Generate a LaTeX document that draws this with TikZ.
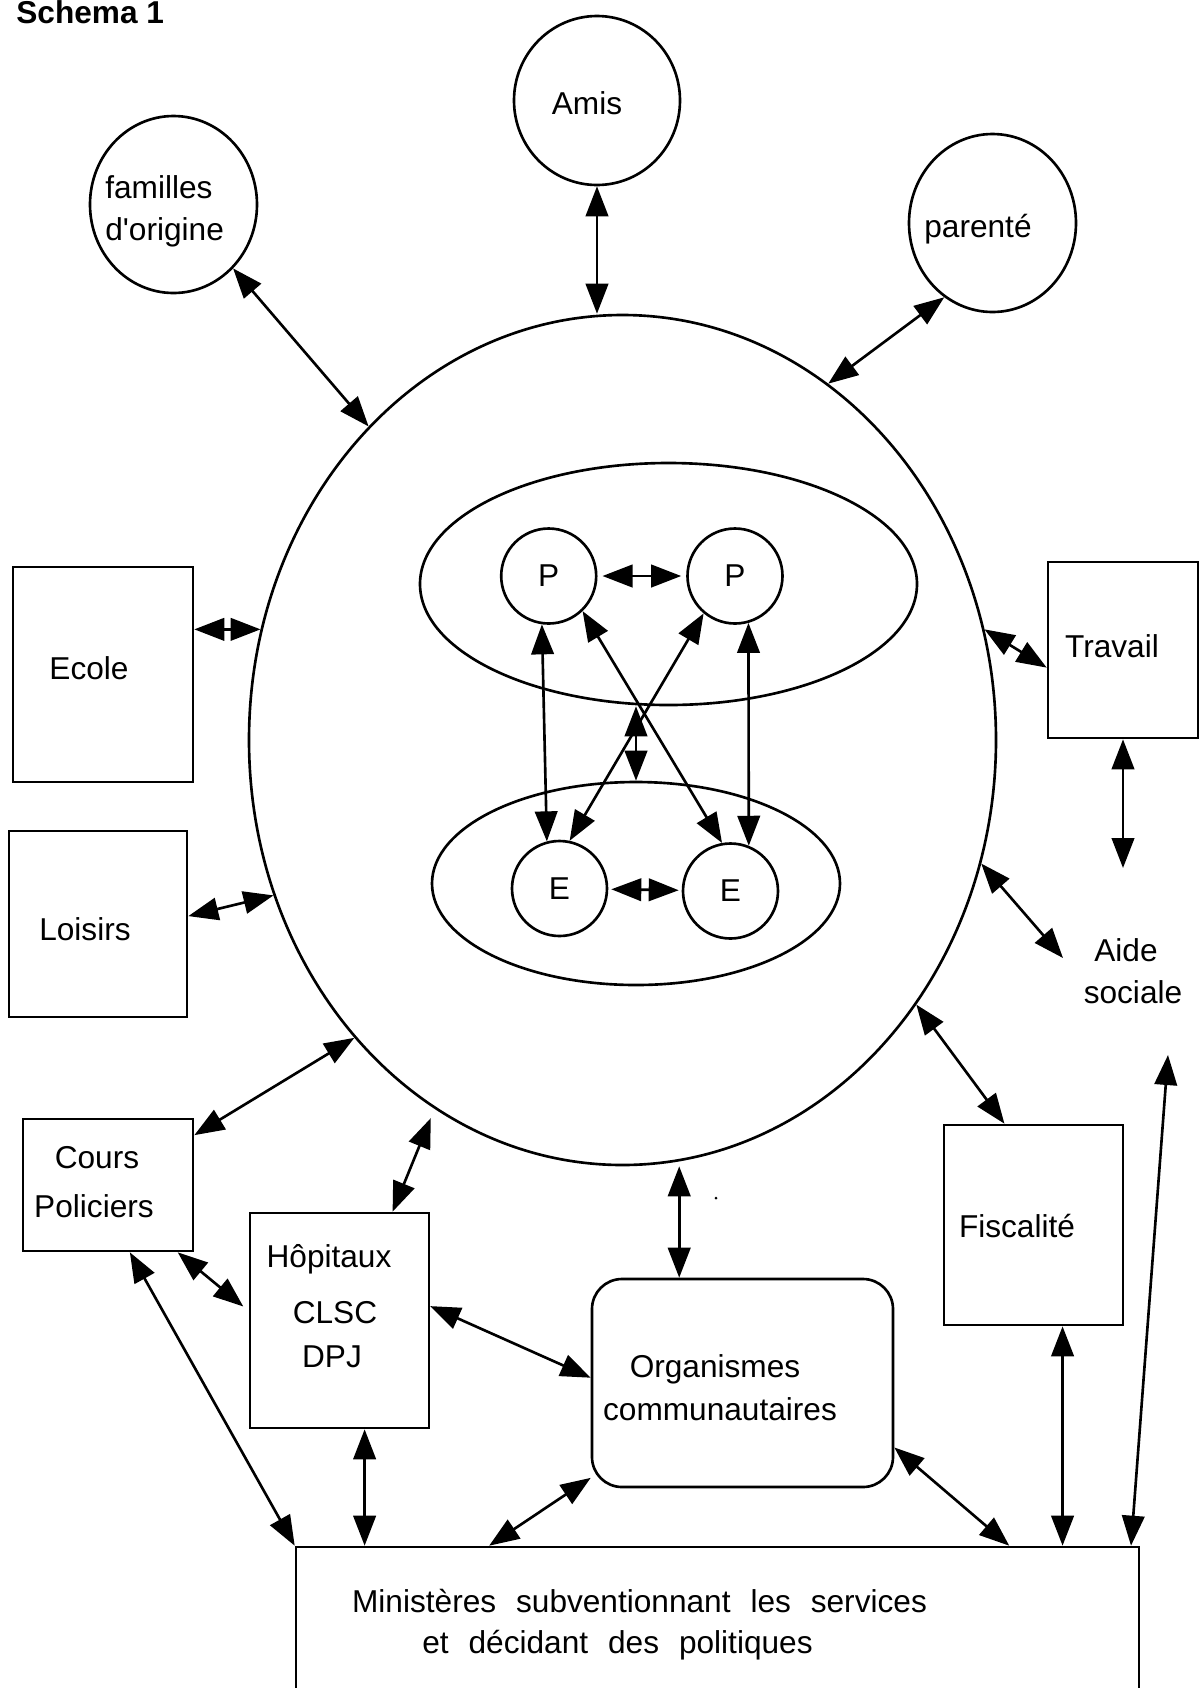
\documentclass[tikz,border=0pt]{standalone}
\usepackage{fontspec}
\setmainfont{Liberation Sans}
\usetikzlibrary{shapes.geometric, arrows.meta, calc}
\newcommand{\pxu}{0.02cm}
\tikzstyle{ring} = [ellipse, draw=black, line width=1.5pt, inner sep=0pt]
\tikzstyle{member} = [circle, draw=black, line width=1.5pt, minimum size=95*\pxu, inner sep=0pt]
\tikzstyle{box} = [rectangle, draw=black, line width=1.5pt, inner sep=0pt]
\tikzstyle{word} = [anchor=base, inner sep=0pt]
\tikzstyle{link} = [line width=1.5pt, <->, >={Triangle[length=0.6cm,width=0.45cm]}]

\begin{document}
\begin{tikzpicture}
				[x=0.02cm, y=-0.02cm, font=\fontsize{18}{22}\selectfont]
				\useasboundingbox (0,0) rectangle (1199,1688);

				\node[word, anchor=base west, font=\fontsize{18}{22}\selectfont\bfseries] (title) at (16,23) {Schema 1};

				% la famille
				\node (big) [ring, minimum width=747*\pxu, minimum height=850*\pxu] at (622.5,740) {};
				\node (famP) [ring, minimum width=497*\pxu, minimum height=242*\pxu] at (668.5,584) {};
				\node (famE) [ring, minimum width=408*\pxu, minimum height=203*\pxu] at (636,883.5) {};
				\node (P1) [member] at (548.7,576) {P};
				\node (P2) [member] at (735,576) {P};
				\node (E1) [member] at (559.5,888.5) {E};
				\node (E2) [member] at (730.5,891) {E};

				% reseau
				\node (amis) [ring, minimum width=166*\pxu, minimum height=169*\pxu] at (597,100.5) {};
				\node (fam) [ring, minimum width=167*\pxu, minimum height=177*\pxu] at (173.5,204.5) {};
				\node (par) [ring, minimum width=167*\pxu, minimum height=178*\pxu] at (992.5,223) {};
				\node (ecole) [box, minimum width=180*\pxu, minimum height=215*\pxu] at (103,674.5) {};
				\node (loisirs) [box, minimum width=178*\pxu, minimum height=186*\pxu] at (98,924) {};
				\node (travail) [box, minimum width=150*\pxu, minimum height=176*\pxu] at (1123,650) {};
				\node (cours) [box, minimum width=170*\pxu, minimum height=132*\pxu] at (108,1185) {};
				\node (hop) [box, minimum width=179*\pxu, minimum height=215*\pxu] at (339.5,1320.5) {};
				\node (org) [box, rounded corners=0.6cm, minimum width=301*\pxu, minimum height=208*\pxu] at (742.5,1383) {};
				\node (fisc) [box, minimum width=179*\pxu, minimum height=200*\pxu] at (1033.5,1225) {};
				\node (min) [box, minimum width=843*\pxu, minimum height=200*\pxu] at (717.5,1647) {};
				\node (dot) [circle, fill=black, inner sep=0pt, minimum size=3*\pxu] at (716,1198) {};

				% textes
				\node (amistxt) [word] at (587,114) {Amis};
				\node (famtxt1) [word, anchor=base west] at (105,198) {familles};
				\node (famtxt2) [word, anchor=base west] at (105,240) {d\textquotesingle origine};
				\node (partxt) [word, anchor=base west] at (924,237) {parenté};
				\node (ecoletxt) [word] at (89,679) {Ecole};
				\node (loisirstxt) [word] at (85,940) {Loisirs};
				\node (travailtxt) [word] at (1112,657) {Travail};
				\node (aidetxt1) [word] at (1126,961) {Aide};
				\node (aidetxt2) [word] at (1133,1003) {sociale};
				\node (courstxt1) [word] at (97,1168) {Cours};
				\node (courstxt2) [word] at (94,1217) {Policiers};
				\node (hoptxt1) [word] at (329,1267) {Hôpitaux};
				\node (hoptxt2) [word] at (335,1323) {CLSC};
				\node (hoptxt3) [word] at (332,1367) {DPJ};
				\node (orgtxt1) [word] at (715,1377) {Organismes};
				\node (orgtxt2) [word] at (720,1420) {communautaires};
				\node (fisctxt) [word] at (1017,1237) {Fiscalité};
				\node (mintxt1) [word] at (639.5,1612) {\spaceskip=0.63em Ministères subventionnant les services};
				\node (mintxt2) [word] at (617.5,1653) {\spaceskip=0.63em et décidant des politiques};

				\coordinate (aideUp) at (1123,868);
				\coordinate (aideLeft) at (1063,958);
				\coordinate (aideDown) at (1168,1055);

				% liens dans la famille
				\draw [link, shorten <=0.1cm, shorten >=0.1cm] (P1) -- (P2);
				\draw [link] (P1.262) -- (E1.105);
				\draw [link] (P2.286) -- (E2.68);
				\draw [link] (P1.-46) -- (E2.100);
				\draw [link] (P2.230) -- (E1.78);
				\draw [link] (famP.south -| famE.north) -- (famE.north);
				\draw [link, shorten <=0.06cm, shorten >=0.06cm] (E1) -- (E2);

				% liens avec le reseau
				\draw [link] (amis.south) -- (amis.south |- big.north);
				\draw [link] (fam.-47) -- (big.129);
				\draw [link] (par.237) -- (big.60);
				\draw [link] (big.163 -| ecole.east) -- (big.163);
				\draw [link] (loisirs.5) -- (big.204);
				\draw [link] (big.17) -- (travail.193);
				\draw [link] (travail.south) -- (aideUp);
				\draw [link] (big.-19) -- (aideLeft);
				\draw [link] (cours.30) -- (big.228);
				\draw [link, shorten >=0.2cm] (hop.64) -- (big.243);
				\draw [link, shorten >=0.14cm] (cours.-44) -- (hop.174);
				\draw [link] (cours.-72) -- (min.north west);
				\draw [link] (hop.-77) -- (hop.-77 |- min.north);
				\draw [link] (hop.9) -- (org.178);
				\draw [link] (org.121 |- big.south) -- (org.121);
				\draw [link] (org.212) -- ($(min.north west)!0.23!(min.north east)$);
				\draw [link] (org.-23) -- ($(min.north west)!0.845!(min.north east)$);
				\draw [link] (big.-42) -- (fisc.106);
				\draw [link] (fisc.-74) -- (fisc.-74 |- min.north);
				\draw [link] (aideDown) -- ($(min.north west)!0.989!(min.north east)$);
			\end{tikzpicture}
\end{document}
